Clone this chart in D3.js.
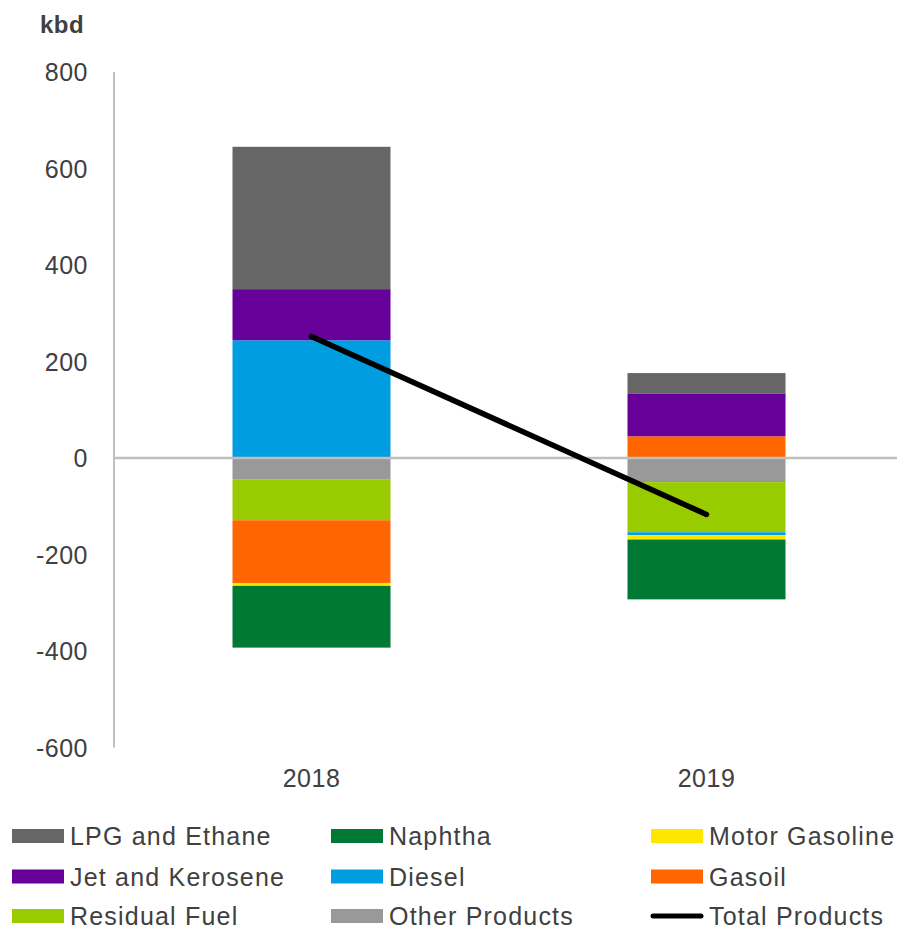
<!DOCTYPE html>
<html>
<head>
<meta charset="utf-8">
<script src="https://cdn.jsdelivr.net/npm/d3@7"></script>
<style>
  html, body { margin: 0; padding: 0; background: #fff; }
  svg { display: block; font-family: "Liberation Sans", Arial, sans-serif; }
</style>
</head>
<body>
<svg id="chart" width="903" height="929"></svg>
<script>
// ---- data ----
const categories = ["2018", "2019"];
const lpgEthane      = [295, 42];
const naphtha        = [-128, -124];
const motorGasoline  = [-6, -9];
const jetKerosene    = [106, 89];
const diesel         = [244, -6];
const gasoil         = [-130, 45];
const residualFuel   = [-84, -104];
const otherProducts  = [-45, -50];
const totalProducts  = [252, -117];
const yTicks = [-600, -400, -200, 0, 200, 400, 600, 800];
const yTickLabels = ["-600", "-400", "-200", "0", "200", "400", "600", "800"];

const seriesNames = ["LPG and Ethane", "Naphtha", "Motor Gasoline", "Jet and Kerosene", "Diesel", "Gasoil", "Residual Fuel", "Other Products"];
const seriesValues = [lpgEthane, naphtha, motorGasoline, jetKerosene, diesel, gasoil, residualFuel, otherProducts];
const colors = ["#666666", "#007934", "#ffe600", "#660099", "#009ee0", "#ff6600", "#99cc00", "#999999"];

// stacking order from zero outward (Excel order reversed)
const stackKeys = ["Other Products", "Residual Fuel", "Gasoil", "Diesel", "Jet and Kerosene", "Motor Gasoline", "Naphtha", "LPG and Ethane"];

const table = categories.map((c, i) => {
  const row = { category: c };
  seriesNames.forEach((n, k) => row[n] = seriesValues[k][i]);
  row.total = totalProducts[i];
  return row;
});

const svg = d3.select("#chart");
const x = d3.scaleBand().domain(categories).range([114, 904]).paddingInner(0.6).paddingOuter(0.3);
const y = d3.scaleLinear().domain([-600, 800]).range([747.5, 72]);
const color = d3.scaleOrdinal().domain(seriesNames).range(colors);

const stacked = d3.stack().keys(stackKeys).offset(d3.stackOffsetDiverging)(table);

// bars
svg.append("g").selectAll("g").data(stacked).join("g")
  .attr("fill", d => color(d.key))
  .selectAll("rect").data(d => d).join("rect")
  .attr("x", d => x(d.data.category))
  .attr("width", x.bandwidth())
  .attr("y", d => y(Math.max(d[0], d[1])))
  .attr("height", d => Math.abs(y(d[0]) - y(d[1])));

// y axis
const yAxis = svg.append("g").attr("transform", "translate(114,0)")
  .call(d3.axisLeft(y).tickValues(yTicks).tickSize(0).tickPadding(26)
    .tickFormat((d, i) => yTickLabels[i]));
yAxis.select(".domain").attr("stroke", "#bfbfbf").attr("stroke-width", 2).attr("d", `M0,${y(800)}V${y(-600)}`);
yAxis.selectAll("text").attr("fill", "#404040").style("font-size", "25px").style("letter-spacing", "0.5px")
  .style("font-family", "'Liberation Sans', Arial, sans-serif").attr("dy", "0.35em");

// zero line
svg.append("line").attr("x1", 114).attr("x2", 897).attr("y1", y(0)).attr("y2", y(0))
  .attr("stroke", "#bfbfbf").attr("stroke-width", 2.5);

// x axis labels
const xAxis = svg.append("g").attr("transform", `translate(0,${y(-600)})`)
  .call(d3.axisBottom(x).tickSize(0).tickPadding(22));
xAxis.select(".domain").remove();
xAxis.selectAll("text").attr("fill", "#404040").style("font-size", "25px").style("letter-spacing", "0.5px")
  .style("font-family", "'Liberation Sans', Arial, sans-serif");

// total line
const line = d3.line().x(d => x(d.category) + x.bandwidth() / 2).y(d => y(d.total));
svg.append("path").datum(table).attr("d", line).attr("fill", "none")
  .attr("stroke", "#000").attr("stroke-width", 5.5).attr("stroke-linecap", "round");

// unit label
svg.append("text").attr("x", 40).attr("y", 33).text("kbd")
  .attr("fill", "#404040").style("font-size", "24px").style("font-weight", "bold").style("letter-spacing", "0.5px");

// legend
const legendItems = seriesNames.map((n, i) => ({ name: n, type: "rect", color: colors[i] }))
  .concat([{ name: "Total Products", type: "line", color: "#000" }]);
const colX = [12, 331, 651];
const rowY = [836, 876.5, 916];
const leg = svg.append("g").selectAll("g").data(legendItems).join("g")
  .attr("transform", (d, i) => `translate(${colX[i % 3]},${rowY[Math.floor(i / 3)]})`);
leg.filter(d => d.type === "rect").append("rect")
  .attr("x", 0).attr("y", -7).attr("width", 52).attr("height", 14).attr("fill", d => d.color);
leg.filter(d => d.type === "line").append("line")
  .attr("x1", 2).attr("x2", 50).attr("y1", 0).attr("y2", 0)
  .attr("stroke", "#000").attr("stroke-width", 5).attr("stroke-linecap", "round");
leg.append("text").attr("x", 58).attr("y", 9).text(d => d.name)
  .attr("fill", "#404040").style("font-size", "25px").style("letter-spacing", "1.2px");
</script>
</body>
</html>
